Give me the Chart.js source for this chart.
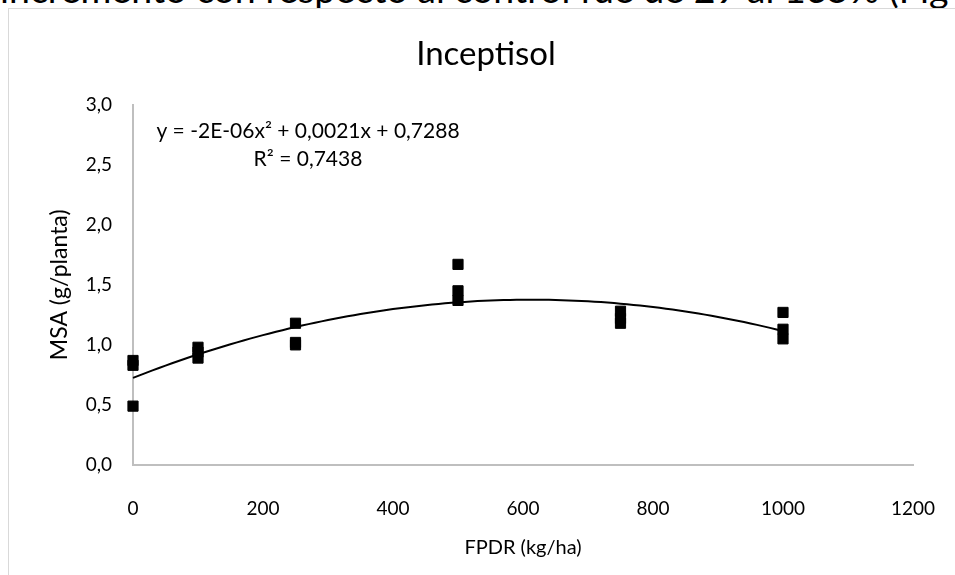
<!DOCTYPE html>
<html>
<head>
<meta charset="utf-8">
<script src="https://cdn.jsdelivr.net/npm/chart.js@4/dist/chart.umd.min.js"></script>
<style>
  html, body { margin: 0; padding: 0; background: #fff; }
  body { width: 955px; height: 575px; position: relative; overflow: hidden; font-family: Lato, sans-serif; }
  #doc { position: absolute; left: 0; top: -30px; font-size: 37.5px; line-height: 37px; white-space: nowrap; color: #000; }
  #frame { position: absolute; left: 8px; top: 8px; width: 1000px; height: 600px;
           border-left: 1px solid #d9d9d9; border-top: 1px solid #d9d9d9; }
  #msaChart { position: absolute; left: 0; top: 0; }
</style>
</head>
<body>
<div id="doc">incremento con respecto al control fue de 29 al 165% (Fig</div>
<div id="frame"></div>
<canvas id="msaChart" width="955" height="575"></canvas>
<script>
// FPDR dose (kg/ha) and dry shoot mass MSA (g/planta), three replicates per dose
const doses = [0, 0, 0, 100, 100, 100, 250, 250, 250, 500, 500, 500, 750, 750, 750, 1000, 1000, 1000];
const msa = [0.87, 0.83, 0.49, 0.98, 0.94, 0.89, 1.18, 1.02, 1.00, 1.67, 1.45, 1.37, 1.28, 1.22, 1.18, 1.27, 1.13, 1.05];
const xTicks = [0, 200, 400, 600, 800, 1000, 1200];
const yTicks = [0, 0.5, 1.0, 1.5, 2.0, 2.5, 3.0];
const eqLines = ['y = -2E-06x\u00B2 + 0,0021x + 0,7288', 'R\u00B2 = 0,7438'];

// polynomial (order 2) trendline, least squares like Excel does
function quadFit(xs, ys) {
    const s = [0, 0, 0, 0, 0], t = [0, 0, 0];
    xs.forEach((x, i) => {
        let p = 1;
        for (let k = 0; k < 5; k++) { s[k] += p; if (k < 3) t[k] += p * ys[i]; p *= x; }
    });
    const m = [[s[0], s[1], s[2], t[0]], [s[1], s[2], s[3], t[1]], [s[2], s[3], s[4], t[2]]];
    for (let c = 0; c < 3; c++) {
        for (let r = c + 1; r < 3; r++) {
            const f = m[r][c] / m[c][c];
            for (let k = c; k < 4; k++) m[r][k] -= f * m[c][k];
        }
    }
    const res = [0, 0, 0];
    for (let r = 2; r >= 0; r--) {
        let v = m[r][3];
        for (let k = r + 1; k < 3; k++) v -= m[r][k] * res[k];
        res[r] = v / m[r][r];
    }
    return res; // [c, b, a]
}

const coef = quadFit(doses, msa);
const trend = [];
for (let x = 0; x <= 1000; x += 10) {
    trend.push({ x: x, y: coef[0] + coef[1] * x + coef[2] * x * x });
}

const comma = v => v.toFixed(1).replace('.', ',');

const equationLabel = {
    id: 'equationLabel',
    afterDatasetsDraw(chart) {
        const ctx = chart.ctx;
        ctx.save();
        ctx.font = '21px Lato';
        ctx.fillStyle = '#000';
        ctx.textAlign = 'center';
        ctx.textBaseline = 'alphabetic';
        ctx.fillText(eqLines[0], 308, 138);
        ctx.fillText(eqLines[1], 308, 166);
        ctx.restore();
    }
};

new Chart(document.getElementById('msaChart').getContext('2d'), {
    type: 'scatter',
    data: {
        datasets: [{
            label: 'MSA',
            data: doses.map((d, i) => ({ x: d, y: msa[i] })),
            pointStyle: 'rect',
            pointRadius: 7.2,
            borderWidth: 1,
            backgroundColor: '#000',
            borderColor: '#000',
            clip: false,
            order: 1
        }, {
            label: 'Polinómica',
            data: trend,
            showLine: true,
            pointRadius: 0,
            borderColor: '#000',
            borderWidth: 2,
            fill: false,
            clip: false,
            order: 2
        }]
    },
    options: {
        responsive: false,
        animation: false,
        devicePixelRatio: 1,
        layout: { padding: { left: 37, right: 20, top: 0, bottom: 0 } },
        plugins: {
            legend: { display: false },
            tooltip: { enabled: false },
            title: {
                display: true,
                text: 'Inceptisol',
                color: '#000',
                font: { family: 'Lato', size: 33, weight: 'normal', lineHeight: 1.2 },
                padding: { top: 35, bottom: 30 }
            }
        },
        scales: {
            x: {
                type: 'linear',
                min: 0,
                max: 1200,
                afterBuildTicks: s => { s.ticks = xTicks.map(v => ({ value: v })); },
                afterFit: s => { s.height = 110; s.paddingLeft = 0; s.paddingRight = 42; },
                grid: { display: false, drawTicks: false },
                border: { display: true, color: '#bfbfbf', width: 2 },
                ticks: { color: '#000', padding: 32, font: { family: 'Lato', size: 19 }, callback: v => String(v) },
                title: {
                    display: true,
                    text: 'FPDR (kg/ha)',
                    color: '#000',
                    font: { family: 'Lato', size: 20, lineHeight: 1.2 },
                    padding: { top: 0, bottom: 15 }
                }
            },
            y: {
                min: 0,
                max: 3,
                afterBuildTicks: s => { s.ticks = yTicks.map(v => ({ value: v })); },
                afterFit: s => { s.width = 96; },
                grid: { display: false, drawTicks: false },
                border: { display: true, color: '#bfbfbf', width: 2 },
                ticks: { color: '#000', padding: 21, font: { family: 'Lato', size: 19 }, callback: v => comma(v) },
                title: {
                    display: true,
                    text: 'MSA (g/planta)',
                    color: '#000',
                    font: { family: 'Lato', size: 23, lineHeight: 1.2 },
                    padding: { top: 9, bottom: 0 }
                }
            }
        }
    },
    plugins: [equationLabel]
});
</script>
</body>
</html>
